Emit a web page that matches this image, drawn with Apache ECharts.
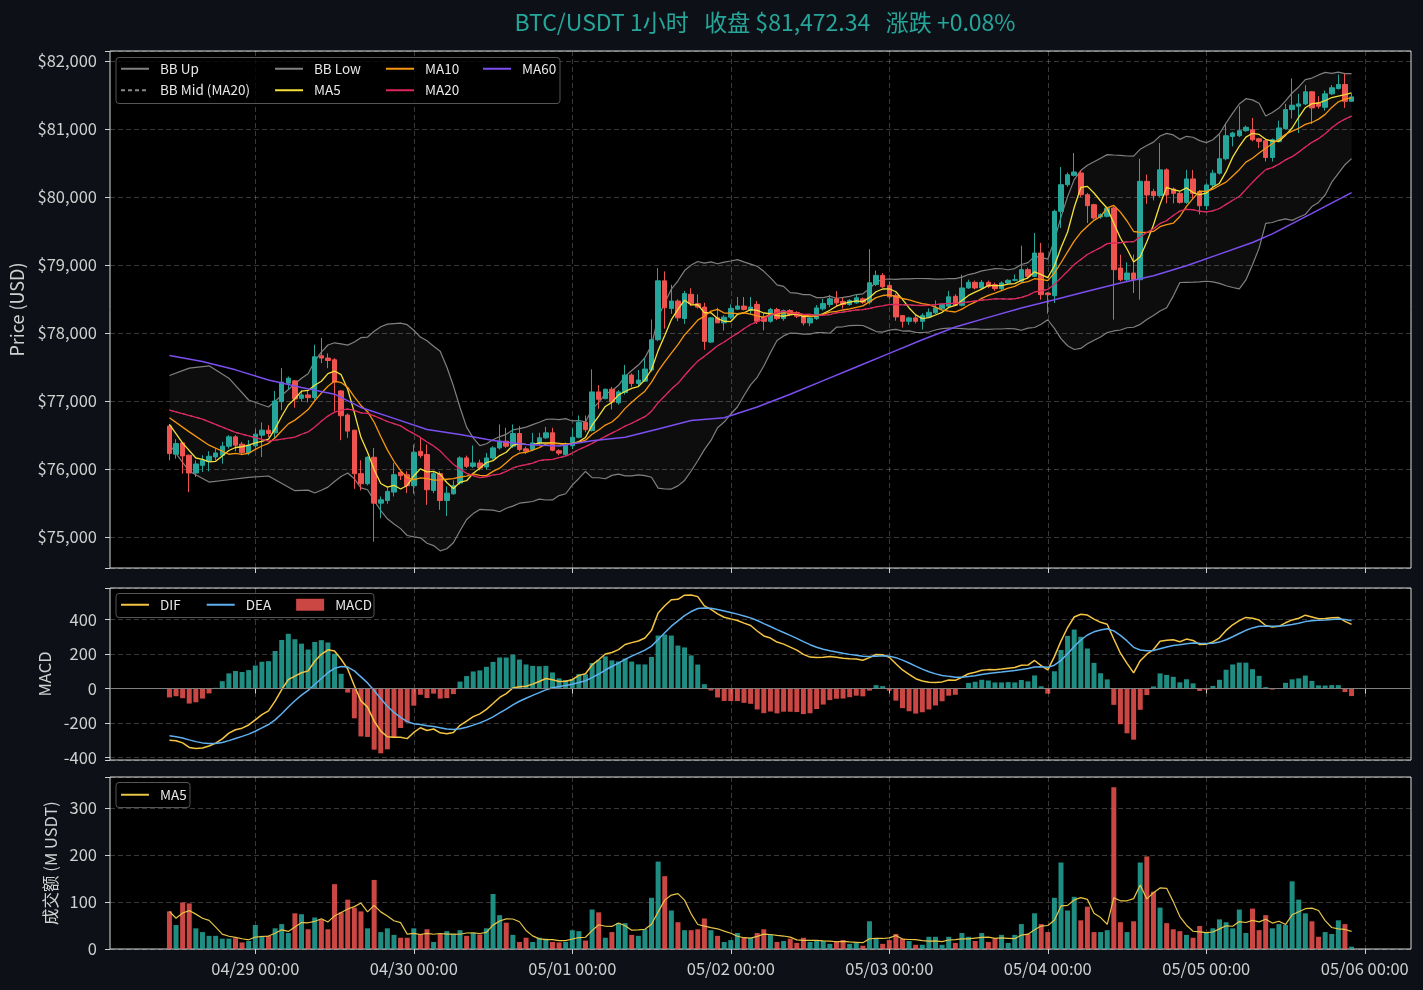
<!DOCTYPE html>
<html>
<head>
<meta charset="utf-8">
<script src="https://cdn.jsdelivr.net/npm/echarts@6/dist/echarts.min.js"></script>
<style>
html,body{margin:0;padding:0;background:#0d1117;}
#chart{width:1423px;height:990px;}
</style>
</head>
<body>
<div id="chart"></div>
<script>
// ---------------- data ----------------
const pairName = 'BTC/USDT';
const timeframe = '1小时';
const firstCandleUTC = Date.UTC(2025, 3, 28, 11); // 04/28 11:00
const padBefore = 9;   // empty hourly slots shown left of the first candle
const padAfter = 9;    // empty hourly slots shown right of the last candle

const opens = [
76631,76217,76384,76202,75941,76054,76113,76177,76202,76335,
76473,76365,76236,76340,76498,76571,76532,76990,77261,77296,
77039,77089,77049,77665,77631,77606,77148,76793,76571,75931,
75783,76172,75498,75537,75660,75951,75916,75754,76261,76212,
75685,75931,75537,75635,75793,76163,76039,76089,76030,76163,
76310,76409,76335,76522,76296,76286,76384,76458,76532,76268,
76208,76342,76466,76688,76565,77134,77035,77173,76975,77124,
77381,77258,77292,77456,77901,78767,78361,78470,78213,78569,
78431,78381,77866,78223,78149,78233,78351,78396,78332,78421,
78236,78172,78345,78212,78330,78300,78256,78148,78212,78355,
78419,78502,78463,78419,78443,78502,78453,78714,78847,78700,
78552,78256,78172,78222,78172,78236,78296,78355,78394,78539,
78407,78662,78745,78662,78745,78711,78652,78735,78775,78760,
78931,78833,79176,78588,78549,79789,80181,80318,80353,80034,
79887,79706,79716,79838,78956,78784,78882,78784,80230,80079,
80020,80399,80118,80054,79921,80266,80079,79872,80177,80350,
80562,80891,80901,80975,80990,80857,80828,80581,80818,81005,
81286,81335,81369,81547,81384,81320,81517,81596,81655,81407
];
const closes = [
76227,76374,76192,75941,76074,76128,76187,76236,76335,76473,
76350,76241,76350,76512,76571,76522,77000,77276,77335,77030,
77089,77049,77650,77631,77596,77276,76783,76557,75931,75783,
76172,75498,75547,75670,75916,75901,75754,76246,76197,75695,
75931,75537,75645,75754,76163,76039,76089,76015,76163,76310,
76409,76335,76522,76286,76261,76384,76458,76532,76276,76233,
76352,76466,76688,76579,77134,77025,77173,76985,77134,77381,
77258,77307,77470,77901,78767,78371,78470,78223,78579,78431,
78381,77876,78223,78149,78233,78361,78396,78347,78381,78173,
78172,78345,78212,78330,78271,78246,78148,78222,78369,78434,
78502,78443,78419,78478,78517,78453,78739,78847,78680,78532,
78236,78172,78222,78172,78256,78305,78369,78419,78532,78407,
78662,78745,78662,78745,78686,78652,78735,78775,78784,78931,
78833,79176,78564,78564,79789,80181,80328,80368,80034,79873,
79691,79740,79838,78931,78784,78882,78784,80230,80030,80020,
80399,80030,80054,79921,80266,80054,79872,80177,80350,80562,
80901,80941,80975,81025,80842,80818,80581,80842,81015,81286,
81350,81369,81547,81310,81335,81517,81606,81655,81407,81472.34
];
const highs = [
76655,76438,76399,76212,76128,76202,76261,76300,76399,76498,
76498,76399,76424,76586,76685,76645,77148,77483,77360,77310,
77160,77160,77828,77926,77700,77630,77160,76818,76571,76128,
76187,76310,75596,75744,76089,75966,75966,76360,76473,76360,
75966,75966,75744,75833,76187,76197,76345,76138,76236,76335,
76655,76606,76655,76630,76330,76532,76532,76620,76606,76290,
76390,76599,76787,76787,77465,77233,77183,77208,77159,77530,
77406,77456,77629,78198,78955,78906,78708,78495,78619,78658,
78569,78445,78233,78371,78262,78421,78530,78530,78530,78470,
78290,78370,78370,78345,78350,78320,78270,78240,78410,78500,
78560,78616,78520,78500,78560,78520,79232,78920,78880,78760,
78580,78260,78240,78260,78290,78360,78480,78430,78620,78570,
78858,78784,78770,78780,78770,78740,78760,78790,78860,79284,
78960,79471,79324,78600,79814,80441,80360,80647,80390,80060,
79900,79760,79860,79860,79152,79039,79152,80564,80330,80120,
80793,80420,80140,80080,80399,80399,80100,80202,80399,80916,
81089,80960,81335,81050,81163,80870,80840,80860,81123,81369,
81744,81517,81645,81560,81483,81566,81645,81803,81813,81517
];
const lows = [
76128,76153,75931,75660,75882,75956,75966,76128,76079,76300,
76261,76202,76202,76276,76177,76473,76458,76867,77170,76902,
76990,76980,77015,77557,77483,76852,76424,76458,75709,75685,
75760,74931,75276,75488,75596,75838,75645,75635,76163,75473,
75645,75399,75310,75620,75768,76015,76015,75980,75990,76138,
76286,76310,76310,76261,76220,76261,76350,76443,76261,76200,
76193,76292,76450,76540,76550,76886,77025,76876,76945,77094,
77208,77208,77282,77431,77881,78064,78282,78173,78134,78396,
78361,77753,77851,78149,78035,78208,78336,78332,78272,78134,
78039,78150,78190,78180,78250,78220,78110,78100,78190,78330,
78380,78400,78360,78400,78430,78430,78420,78690,78660,78500,
78180,78080,78120,78140,78050,78220,78280,78340,78380,78400,
78390,78650,78640,78640,78660,78620,78630,78720,78760,78740,
78800,78820,78490,78284,78441,79544,80150,80300,80000,79618,
79670,79680,79700,78196,78760,78760,78588,78490,79900,79950,
80000,79906,79906,79900,79900,79980,79744,79808,80150,80330,
80540,80744,80880,80960,80820,80719,80522,80522,80800,80990,
81153,80941,81350,81074,81300,81270,81500,81580,81310,81400
];
// turnover in M USDT
const volumes = [
80,51,99,97,44,36,28,28,22,22,
23,14,17,51,28,28,44,53,34,76,
74,42,67,63,42,138,78,105,88,80,
44,147,36,44,30,24,24,44,32,42,
15,32,38,32,40,28,34,31,44,117,
72,56,30,15,24,15,24,22,15,14,
15,40,38,18,84,78,24,36,55,55,
30,28,42,109,186,155,82,57,40,40,
42,65,40,28,15,19,34,24,24,34,
42,30,15,17,22,13,24,15,17,17,
11,17,19,11,13,7,59,22,11,19,
32,22,17,9,9,26,26,9,26,13,
34,26,17,34,15,22,30,13,30,53,
32,76,53,36,109,184,82,111,61,90,
36,36,40,344,57,36,59,184,197,122,
88,55,42,38,30,24,49,34,44,63,
57,44,84,34,86,40,72,44,53,51,
144,105,76,59,26,36,32,61,53,5
];
// MA60 ([candle index, value]) - history before the window is not shown
const ma60Read = [
[0,77670],[5,77581],[10,77458],[15,77310],[20,77197],[25,77100],[29,76905],
[34,76744],[39,76581],[44,76507],[49,76419],[54,76360],[59,76338],
[64,76416],[69,76466],[74,76589],[79,76713],[84,76753],[89,76911],
[94,77100],[99,77300],[104,77500],[109,77700],[114,77901],[119,78088],
[124,78230],[129,78368],[134,78490],[139,78613],[144,78735],[149,78843],
[154,78990],[159,79160],[164,79330],[167,79458],[173,79759],[179,80064]
];
// indicator values before a full window is available
const ma5Head  = [[0,76655],[2,76380]];
const ma10Head = [[0,76754],[3,76546],[6,76350]];
const ma20Head = [[0,76867],[5,76734],[10,76537],[15,76409]];
const bbUpHead  = [[0,77374],[3,77483],[6,77517],[9,77335],[12,77015],[15,76911]];
const bbLowHead = [[0,76360],[3,75966],[6,75808],[9,75842],[12,75877],[15,75897]];
// EMA state at the first candle (read from DIF/DEA start values)
const ema12Start = 76680;
const ema26Start = 76980;
const deaStart = -274;

// ---------------- derived series ----------------
const N = closes.length;
const catLabels = [];
for (let k = -padBefore; k < N + padAfter; k++) {
  const d = new Date(firstCandleUTC + k * 3600e3);
  const p = n => String(n).padStart(2, '0');
  catLabels.push(p(d.getUTCMonth() + 1) + '/' + p(d.getUTCDate()) + ' ' + p(d.getUTCHours()) + ':00');
}
const X = i => i + padBefore;

function sma(arr, n, i) { let s = 0; for (let k = i - n + 1; k <= i; k++) s += arr[k]; return s / n; }
function maLine(n, head) {
  const out = head.map(([i, v]) => [X(i), v]);
  for (let i = n - 1; i < N; i++) out.push([X(i), sma(closes, n, i)]);
  return out;
}
const ma5Line = maLine(5, ma5Head);
const ma10Line = maLine(10, ma10Head);
const ma20Line = maLine(20, ma20Head);
const ma60Line = ma60Read.map(([i, v]) => [X(i), v]);
const bbUpLine = bbUpHead.map(([i, v]) => [X(i), v]);
const bbLowLine = bbLowHead.map(([i, v]) => [X(i), v]);
for (let i = 19; i < N; i++) {
  const m = sma(closes, 20, i);
  let s = 0; for (let k = i - 19; k <= i; k++) s += (closes[k] - m) ** 2;
  const sd = Math.sqrt(s / 19);
  bbUpLine.push([X(i), m + 2 * sd]);
  bbLowLine.push([X(i), m - 2 * sd]);
}
// MACD
const difLine = [], deaLine = [], histBars = [];
{
  let e12 = ema12Start, e26 = ema26Start, dea = deaStart;
  for (let i = 0; i < N; i++) {
    if (i > 0) {
      e12 = e12 + (closes[i] - e12) * 2 / 13;
      e26 = e26 + (closes[i] - e26) * 2 / 27;
    }
    const dif = e12 - e26;
    if (i > 0) dea = dea + (dif - dea) * 2 / 10;
    const h = 2 * (dif - dea);
    difLine.push([X(i), dif]);
    deaLine.push([X(i), dea]);
    histBars.push({ value: [X(i), h], itemStyle: { color: h >= 0 ? 'rgba(38,166,154,0.85)' : 'rgba(239,83,80,0.85)' } });
  }
}
// candles & volume
const UP = '#26a69a', DOWN = '#ef5350';
const candleData = closes.map((c, i) => [X(i), opens[i], c, lows[i], highs[i]]);
const volBars = volumes.map((v, i) => ({ value: [X(i), v], itemStyle: { color: closes[i] >= opens[i] ? 'rgba(38,166,154,0.85)' : 'rgba(239,83,80,0.85)' } }));
const volMa5Line = volumes.map((v, i) => {
  const s = Math.max(0, i - 4); let t = 0; for (let k = s; k <= i; k++) t += volumes[k];
  return [X(i), t / (i - s + 1)];
});

const lastClose = closes[N - 1], prevClose = closes[N - 2];
const pct = (lastClose / prevClose - 1) * 100;
const titleText = pairName + ' ' + timeframe + '   收盘 $' +
  lastClose.toLocaleString('en-US', { minimumFractionDigits: 2, maximumFractionDigits: 2 }) +
  '   涨跌 ' + (pct >= 0 ? '+' : '') + pct.toFixed(2) + '%';

// ---------------- chart ----------------
const FONT = "'Noto Sans CJK SC','Noto Sans',sans-serif";
const TXT = '#d0d0d0';
const GRIDC = 'rgba(255,255,255,0.22)';
const isDay = (idx, val) => typeof val === 'string' ? val.endsWith(' 00:00') : catLabels[idx].endsWith(' 00:00');

function xAxis(g, showLabel) {
  return {
    type: 'category', gridIndex: g, data: catLabels, boundaryGap: false,
    axisLine: { show: false },
    axisTick: { show: true, interval: isDay, length: 5, lineStyle: { color: TXT } },
    axisLabel: { show: showLabel, interval: isDay, color: TXT, fontSize: 16.5, margin: 11, fontFamily: FONT },
    splitLine: { show: true, interval: isDay, lineStyle: { color: GRIDC, type: [5, 3], width: 1 } }
  };
}
function yAxis(g, min, max, step, name, gap, nameSize, fmt) {
  return {
    type: 'value', gridIndex: g, min: min, max: max, minInterval: step, maxInterval: step, splitNumber: 6,
    name: name, nameLocation: 'middle', nameGap: gap,
    nameTextStyle: { color: TXT, fontSize: nameSize, fontFamily: FONT },
    axisLine: { show: false },
    axisTick: { show: true, length: 5, lineStyle: { color: TXT } },
    axisLabel: { color: TXT, fontSize: 16.5, margin: 13, fontFamily: FONT,
      formatter: v => (Math.abs(v % step) < 1e-6 ? fmt(v) : '') },
    splitLine: { show: true, lineStyle: { color: GRIDC, type: [5, 3], width: 1 } }
  };
}
function lineSeries(name, data, color, width, xi, extra) {
  return Object.assign({
    type: 'line', name: name, data: data, xAxisIndex: xi, yAxisIndex: xi,
    symbol: 'none', showSymbol: false, smooth: false, z: 3, clip: true,
    lineStyle: { color: color, width: width }, itemStyle: { color: color }, emphasis: { disabled: true }
  }, extra || {});
}
const legendCommon = {
  orient: 'vertical', itemWidth: 28, itemHeight: 12, itemGap: 8, padding: 0, selectedMode: false,
  itemStyle: { opacity: 0 },
  textStyle: { color: '#e8e8e8', fontSize: 13.5, fontFamily: FONT, padding: [0, 0, 0, 6] }
};
function frame(x, y, w, h) {
  return { type: 'rect', z: 3, silent: true, shape: { x: x, y: y, width: w, height: h, r: 3 },
    style: { fill: 'rgba(0,0,0,0.8)', stroke: '#555', lineWidth: 1 } };
}

const fmtUSD = v => '$' + Math.round(v).toLocaleString('en-US');
const option = {
  backgroundColor: '#0d1117',
  animation: false,
  textStyle: { fontFamily: FONT },
  title: {
    text: titleText, left: 760, top: 6, textAlign: 'center',
    textStyle: { color: '#26a69a', fontSize: 23, fontWeight: 'normal', fontFamily: FONT }
  },
  graphic: [frame(116, 57.5, 444, 46), frame(116, 593.5, 258, 24), frame(116, 782.5, 74, 25)],
  legend: [
    Object.assign({}, legendCommon, { left: 120, top: 62, data: ['BB Up', 'BB Mid (MA20)'] }),
    Object.assign({}, legendCommon, { left: 274, top: 62, data: ['BB Low', 'MA5'] }),
    Object.assign({}, legendCommon, { left: 385, top: 62, data: ['MA10', 'MA20'] }),
    Object.assign({}, legendCommon, { left: 482, top: 62, data: ['MA60'] }),
    Object.assign({}, legendCommon, { orient: 'horizontal', left: 120, top: 598, itemGap: 25,
      data: ['DIF', 'DEA', { name: 'MACD', icon: 'rect', itemStyle: { opacity: 1 } }] }),
    Object.assign({}, legendCommon, { left: 120, top: 788, data: ['MA5 '], formatter: n => n.trim() })
  ],
  grid: [
    { left: 110, top: 51, width: 1301, height: 517, show: true, backgroundColor: '#000', borderColor: '#d8d8d8', borderWidth: 1 },
    { left: 110, top: 588, width: 1301, height: 172, show: true, backgroundColor: '#000', borderColor: '#d8d8d8', borderWidth: 1 },
    { left: 110, top: 777, width: 1301, height: 172, show: true, backgroundColor: '#000', borderColor: '#d8d8d8', borderWidth: 1 }
  ],
  xAxis: [xAxis(0, false), xAxis(1, false), xAxis(2, true)],
  yAxis: [
    yAxis(0, 74544, 82147, 1000, 'Price (USD)', 83, 18, fmtUSD),
    yAxis(1, -414, 581, 200, 'MACD', 52, 16.5, v => String(Math.round(v))),
    yAxis(2, 0, 366, 100, '成交额 (M USDT)', 47, 16.5, v => String(Math.round(v)))
  ],
  series: [
    {
      type: 'custom', name: 'bbfill', xAxisIndex: 0, yAxisIndex: 0, silent: true, z: 1, clip: true,
      data: [[X(0), bbUpLine[0][1]]],
      renderItem: (params, api) => {
        const pts = bbUpLine.map(p => api.coord(p));
        for (let k = bbLowLine.length - 1; k >= 0; k--) pts.push(api.coord(bbLowLine[k]));
        return { type: 'polygon', shape: { points: pts }, style: { fill: 'rgba(255,255,255,0.05)' } };
      }
    },
    lineSeries('BB Up', bbUpLine, '#808080', 1.2, 0, { z: 2 }),
    lineSeries('BB Mid (MA20)', ma20Line, '#8a8a8a', 1, 0, { z: 2, lineStyle: { color: '#8a8a8a', width: 1, type: [4, 3] } }),
    lineSeries('BB Low', bbLowLine, '#808080', 1.2, 0, { z: 2 }),
    {
      type: 'candlestick', name: 'K', xAxisIndex: 0, yAxisIndex: 0, z: 2,
      data: candleData, encode: { x: 0, y: [1, 2, 3, 4] }, barWidth: 5,
      itemStyle: { color: UP, color0: DOWN, borderColor: UP, borderColor0: DOWN, borderWidth: 1 }
    },
    lineSeries('MA5', ma5Line, '#f5e03a', 1.3, 0),
    lineSeries('MA10', ma10Line, '#f7960f', 1.3, 0),
    lineSeries('MA20', ma20Line, '#e0245e', 1.3, 0),
    lineSeries('MA60', ma60Line, '#7b4ff0', 1.5, 0),
    {
      type: 'bar', name: 'MACD', xAxisIndex: 1, yAxisIndex: 1, data: histBars, barWidth: 5, z: 2,
      itemStyle: { color: 'rgba(239,83,80,0.85)' },
      markLine: { silent: true, symbol: 'none', label: { show: false },
        lineStyle: { color: '#808080', type: 'solid', width: 1 }, data: [{ yAxis: 0 }] }
    },
    lineSeries('DIF', difLine, '#f5c542', 1.5, 1),
    lineSeries('DEA', deaLine, '#5fb0ef', 1.5, 1),
    { type: 'bar', name: 'VOL', xAxisIndex: 2, yAxisIndex: 2, data: volBars, barWidth: 5, z: 2 },
    lineSeries('MA5 ', volMa5Line, '#e8c547', 1.2, 2)
  ]
};
const chart = echarts.init(document.getElementById('chart'), null, { renderer: 'canvas' });
chart.setOption(option);
</script>
</body>
</html>
